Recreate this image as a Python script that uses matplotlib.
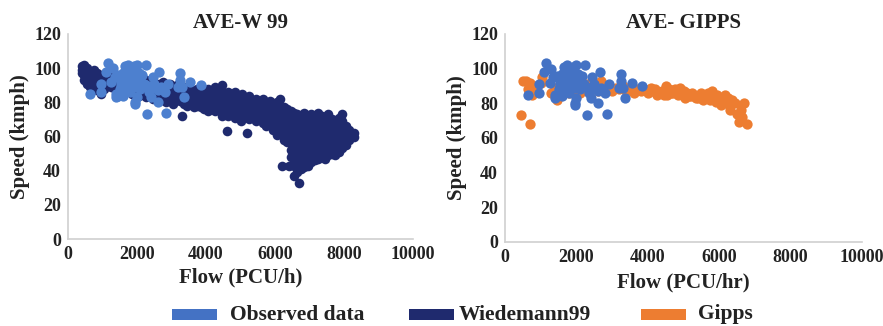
import numpy as np
import matplotlib
matplotlib.use("Agg")
import matplotlib.pyplot as plt
from matplotlib.patches import Rectangle

plt.rcParams['font.family'] = ['Liberation Serif', 'DejaVu Serif']
plt.rcParams['font.weight'] = 'bold'

# observed data (flow PCU/h, speed kmph), same in both panels
obs_flow = [650, 950, 950, 1100, 1150, 1250, 1300, 1350, 1400, 1400, 1450, 1450,
            1500, 1550, 1550, 1600, 1600, 1650, 1650, 1700, 1700, 1750, 1750, 1800,
            1800, 1850, 1850, 1900, 1900, 1950, 1950, 1950, 2000, 2000, 2050, 2050,
            2100, 2100, 2150, 2200, 2250, 2250, 2300, 2350, 2350, 2400, 2450, 2500,
            2600, 2600, 2650, 2700, 2800, 2850, 2900, 3200, 3250, 3250, 3300, 3350,
            3550, 3850]
obs_speed = [85, 91, 86, 98, 103, 92, 100, 95, 85, 83, 96, 84,
             88, 92, 90, 97, 84, 101, 94, 98, 89, 96, 102, 91,
             86, 99, 93, 101, 95, 89, 80, 79, 83, 102, 97, 92,
             93, 88, 96, 91, 102, 90, 73, 86, 89, 83, 95, 91,
             80, 87, 98, 89, 86, 74, 91, 89, 93, 97, 89, 83,
             92, 90]

# Wiedemann99 simulated points, free-flow part
w99_free = [(400, 101), (400, 99), (400, 97), (450, 102), (450, 96), (450, 93),
            (550, 100), (550, 97), (550, 94), (550, 91), (650, 98), (650, 95),
            (650, 92), (650, 89), (750, 99), (750, 96), (750, 93), (750, 90),
            (850, 97), (850, 94), (850, 91), (850, 87), (950, 96), (950, 93),
            (950, 89), (950, 85), (1050, 95), (1050, 92), (1050, 88), (1150, 96),
            (1150, 93), (1150, 90), (1250, 94), (1250, 91), (1250, 89), (1350, 95),
            (1350, 92), (1350, 88), (1450, 93), (1450, 90), (1450, 87), (1550, 94),
            (1550, 91), (1550, 88), (1650, 92), (1650, 89), (1650, 86), (1750, 93),
            (1750, 90), (1750, 87), (1850, 91), (1850, 88), (1850, 85), (1950, 92),
            (1950, 89), (1950, 86), (2050, 90), (2050, 87), (2050, 84), (2150, 91),
            (2150, 88), (2150, 85), (2250, 93), (2250, 89), (2250, 86), (2250, 83),
            (2350, 90), (2350, 87), (2350, 84), (2450, 92), (2450, 88), (2450, 85),
            (2450, 82), (2550, 89), (2550, 86), (2550, 83), (2650, 91), (2650, 87),
            (2650, 84), (2650, 81), (2750, 92), (2750, 88), (2750, 85), (2750, 82),
            (2850, 89), (2850, 86), (2850, 83), (2850, 80), (2950, 91), (2950, 87),
            (2950, 84), (3050, 88), (3050, 85), (3050, 82), (3050, 79), (3150, 90),
            (3150, 86), (3150, 83), (3250, 87), (3250, 84), (3250, 81), (3300, 72)]

# Wiedemann99, transition part
w99_mid = [(3350, 89), (3350, 85), (3350, 82), (3350, 79), (3450, 87), (3450, 84),
           (3450, 81), (3450, 78), (3550, 88), (3550, 85), (3550, 82), (3550, 79),
           (3650, 86), (3650, 83), (3650, 80), (3650, 77), (3750, 88), (3750, 85),
           (3750, 82), (3750, 78), (3850, 87), (3850, 84), (3850, 81), (3850, 77),
           (3950, 85), (3950, 82), (3950, 79), (3950, 76), (4050, 88), (4050, 85),
           (4050, 82), (4050, 78), (4050, 75), (4150, 86), (4150, 83), (4150, 80),
           (4150, 77), (4250, 89), (4250, 85), (4250, 82), (4250, 79), (4250, 75),
           (4350, 87), (4350, 84), (4350, 80), (4350, 77), (4450, 90), (4450, 86),
           (4450, 83), (4450, 79), (4450, 76), (4450, 72), (4550, 85), (4550, 82),
           (4550, 78), (4550, 75), (4600, 63), (4650, 86), (4650, 83), (4650, 79),
           (4650, 76), (4650, 72), (4750, 84), (4750, 81), (4750, 78), (4750, 74),
           (4850, 86), (4850, 82), (4850, 79), (4850, 75), (4850, 71), (4950, 83),
           (4950, 80), (4950, 77), (4950, 73), (5000, 69), (5050, 85), (5050, 81),
           (5050, 78), (5050, 74), (5050, 71), (5150, 82), (5150, 79), (5150, 76),
           (5150, 72), (5200, 62), (5250, 84), (5250, 80), (5250, 77), (5250, 73),
           (5250, 70), (5350, 81), (5350, 78), (5350, 75), (5350, 71), (5450, 82),
           (5450, 79), (5450, 76), (5450, 72), (5450, 69), (5550, 80), (5550, 77),
           (5550, 74), (5550, 70), (5650, 82), (5650, 78), (5650, 75), (5650, 72),
           (5650, 68), (5750, 80), (5750, 77), (5750, 73), (5750, 70), (5750, 66),
           (5850, 81), (5850, 78), (5850, 74), (5850, 71), (5850, 67), (5950, 79),
           (5950, 76), (5950, 72), (5950, 69), (5950, 64), (6050, 80), (6050, 76),
           (6050, 73), (6050, 70), (6050, 66), (6050, 61), (6150, 82), (6150, 78),
           (6150, 74), (6150, 71), (6150, 67), (6150, 63), (6200, 43)]

# Wiedemann99, congested blob
w99_cong = [(6250, 77), (6250, 74), (6250, 70), (6250, 66), (6250, 62), (6250, 58),
            (6350, 76), (6350, 73), (6350, 69), (6350, 65), (6350, 61), (6350, 57),
            (6400, 43), (6450, 75), (6450, 71), (6450, 68), (6450, 64), (6450, 60),
            (6450, 56), (6450, 52), (6450, 48), (6550, 74), (6550, 70), (6550, 67),
            (6550, 63), (6550, 59), (6550, 55), (6550, 51), (6550, 47), (6550, 43),
            (6550, 37), (6650, 73), (6650, 69), (6650, 66), (6650, 62), (6650, 58),
            (6650, 54), (6650, 50), (6650, 46), (6650, 42), (6650, 39), (6700, 33),
            (6750, 72), (6750, 68), (6750, 65), (6750, 61), (6750, 57), (6750, 53),
            (6750, 49), (6750, 45), (6750, 41), (6850, 74), (6850, 70), (6850, 66),
            (6850, 62), (6850, 58), (6850, 54), (6850, 50), (6850, 46), (6850, 42),
            (6950, 71), (6950, 67), (6950, 63), (6950, 59), (6950, 55), (6950, 51),
            (6950, 47), (6950, 43), (7050, 73), (7050, 69), (7050, 65), (7050, 61),
            (7050, 57), (7050, 53), (7050, 49), (7050, 45), (7150, 70), (7150, 66),
            (7150, 62), (7150, 58), (7150, 54), (7150, 50), (7150, 46), (7250, 74),
            (7250, 70), (7250, 66), (7250, 62), (7250, 58), (7250, 54), (7250, 50),
            (7250, 47), (7350, 72), (7350, 68), (7350, 64), (7350, 60), (7350, 56),
            (7350, 52), (7350, 48), (7450, 71), (7450, 67), (7450, 63), (7450, 59),
            (7450, 55), (7450, 51), (7450, 47), (7550, 73), (7550, 69), (7550, 65),
            (7550, 61), (7550, 57), (7550, 53), (7550, 49), (7650, 70), (7650, 66),
            (7650, 62), (7650, 58), (7650, 54), (7650, 50), (7750, 68), (7750, 64),
            (7750, 60), (7750, 56), (7750, 52), (7750, 49), (7850, 71), (7850, 67),
            (7850, 63), (7850, 59), (7850, 55), (7850, 51), (7950, 73), (7950, 69),
            (7950, 65), (7950, 61), (7950, 57), (7950, 53), (8050, 66), (8050, 62),
            (8050, 58), (8050, 55), (8150, 64), (8150, 61), (8150, 58), (8280, 62),
            (8280, 60)]

# Gipps simulated points
gipps = [(450, 73), (700, 68), (500, 93), (600, 93), (700, 92), (650, 88), (750, 85),
         (800, 90), (1050, 95), (1000, 92), (1300, 86), (1400, 89), (1450, 82),
         (1550, 85), (1500, 87), (1700, 88), (1800, 86), (1900, 90), (2000, 88),
         (2100, 86), (2200, 89), (2300, 91), (2400, 88), (2500, 90), (2600, 87),
         (2700, 93), (2800, 88), (2900, 90), (3000, 87), (3100, 89), (3200, 88),
         (3300, 90), (3400, 87), (3500, 89), (3600, 86), (3700, 88), (3800, 87),
         (3900, 88), (4000, 86), (4050, 88), (4100, 89), (4150, 87), (4200, 88),
         (4250, 85), (4300, 86), (4400, 87), (4450, 85), (4500, 90), (4550, 85),
         (4600, 88), (4650, 86), (4700, 86), (4750, 88), (4800, 87), (4850, 85),
         (4900, 89), (4950, 85), (5000, 87), (5050, 83), (5100, 86), (5150, 84),
         (5200, 84), (5250, 86), (5300, 85), (5350, 83), (5400, 83), (5450, 85),
         (5500, 86), (5550, 82), (5600, 84), (5650, 85), (5700, 86), (5750, 82),
         (5800, 87), (5850, 84), (5900, 81), (5950, 85), (6000, 83), (6050, 79),
         (6100, 82), (6150, 85), (6200, 80), (6250, 83), (6300, 76), (6350, 82),
         (6450, 80), (6500, 74), (6550, 69), (6600, 76), (6650, 72), (6700, 80),
         (6780, 68)]

OBS_LEFT = '#4d80cf'
OBS_RIGHT = '#4472c4'
NAVY = '#1f2a6e'
ORANGE = '#ed7d31'
AXIS_GRAY = '#d0d0d0'
TXT = '#222222'


def style_axes(ax, title, xlabel):
    ax.set_xlim(0, 10000)
    ax.set_ylim(0, 120)
    ax.set_xticks(range(0, 10001, 2000))
    ax.set_yticks(range(0, 121, 20))
    ax.tick_params(length=0, labelsize=13, colors=TXT, pad=5)
    for lab in ax.get_xticklabels() + ax.get_yticklabels():
        lab.set_fontweight('bold')
    for side in ['top', 'right']:
        ax.spines[side].set_visible(False)
    for side in ['left', 'bottom']:
        ax.spines[side].set_color(AXIS_GRAY)
        ax.spines[side].set_linewidth(1.2)
    ax.set_title(title, fontsize=15, fontweight='bold', color=TXT, pad=4)
    ax.set_xlabel(xlabel, fontsize=15, fontweight='bold', color=TXT)
    ax.set_ylabel('Speed (kmph)', fontsize=15, fontweight='bold', color=TXT)
    ax.xaxis.label.set_va('center')
    ax.yaxis.label.set_va('center')


fig = plt.figure(figsize=(8.83, 3.26), dpi=100)

ax1 = fig.add_axes([68 / 883, 87 / 326, 345 / 883, 205 / 326])
w99 = np.array(w99_free + w99_mid + w99_cong)
ax1.scatter(w99[:, 0], w99[:, 1], s=48, color=NAVY, linewidths=0, zorder=2)
ax1.scatter(obs_flow, obs_speed, s=55, color=OBS_LEFT, linewidths=0, zorder=3)
style_axes(ax1, 'AVE-W 99', 'Flow (PCU/h)')
ax1.xaxis.set_label_coords(0.5, -0.19)
ax1.yaxis.set_label_coords(-0.14, 0.5)

ax2 = fig.add_axes([505 / 883, 84 / 326, 357 / 883, 208 / 326])
gp = np.array(gipps)
ax2.scatter(gp[:, 0], gp[:, 1], s=55, color=ORANGE, linewidths=0, zorder=2)
ax2.scatter(obs_flow, obs_speed, s=55, color=OBS_RIGHT, linewidths=0, zorder=3)
style_axes(ax2, 'AVE- GIPPS', 'Flow (PCU/hr)')
ax2.xaxis.set_label_coords(0.5, -0.197)
ax2.yaxis.set_label_coords(-0.135, 0.5)

# legend row along the bottom
legend_items = [('Observed data', OBS_RIGHT, 172, 230),
                ('Wiedemann99', NAVY, 409, 459),
                ('Gipps', ORANGE, 641, 698)]
for label, col, px, tx in legend_items:
    fig.add_artist(Rectangle((px / 883, (326 - 320) / 326), 45 / 883, 11 / 326,
                             transform=fig.transFigure, facecolor=col,
                             edgecolor='none'))
    fig.text(tx / 883, (326 - 314.5) / 326, label, fontsize=15.5, fontweight='bold',
             color=TXT, va='center', ha='left')

fig.savefig('out.png', dpi=100)
